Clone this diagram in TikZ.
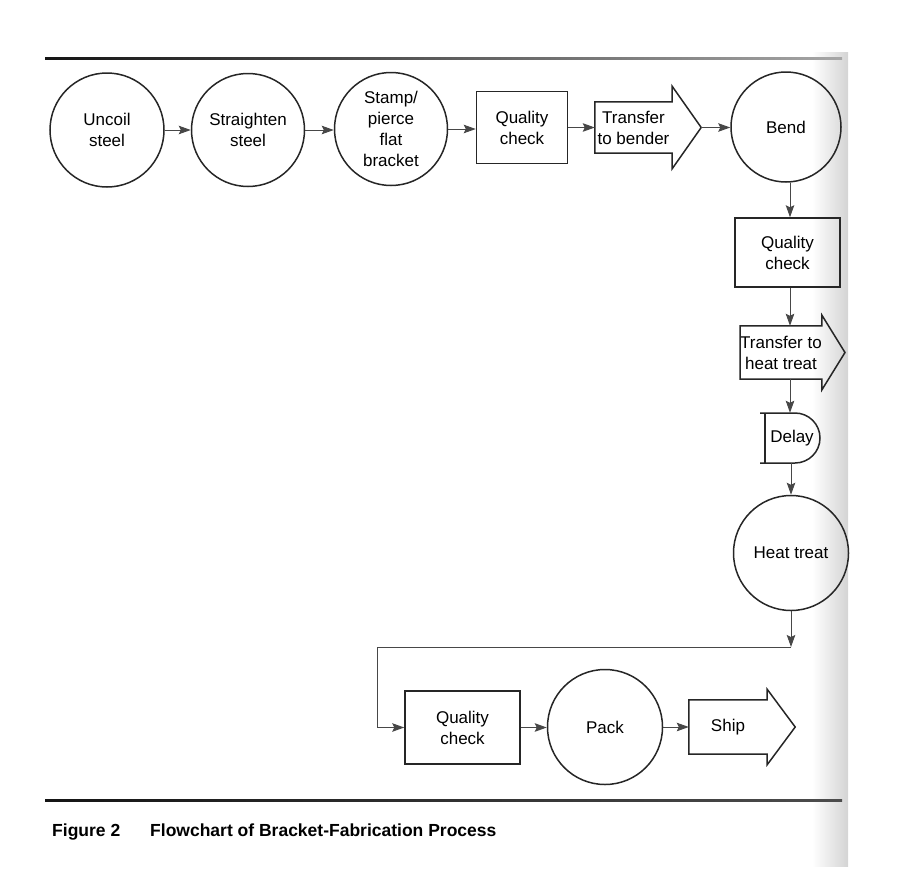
\documentclass[tikz,border=0pt]{standalone}
\usepackage{fontspec}
\setmainfont{Liberation Sans}
\usetikzlibrary{arrows.meta,calc}
\begin{document}
\begin{tikzpicture}[x=1pt,y=-1pt,
  nodefont/.style={font=\fontsize{17}{21}\selectfont},
  outline/.style={draw=black!85,line width=1.5pt},
  proc/.style={circle,outline,inner sep=0pt,align=center,nodefont},
  insp/.style={rectangle,outline,inner sep=0pt,align=center,nodefont},
  tbody/.style={rectangle,inner sep=0pt,align=center,nodefont},
  conn/.style={draw=black!72,line width=1pt,-{Stealth[length=12pt,width=8.5pt,inset=2pt]}},
  connplain/.style={draw=black!72,line width=1pt},
  capfont/.style={font=\fontsize{17.5}{21}\selectfont\bfseries},
  ]
\useasboundingbox (0,0) rectangle (915,878);
% page gutter shadow
\shade[left color=white,right color=black!17,draw=none] (812,52) rectangle (848,866);
% rules
\shade[left color=black!92,right color=black!35,draw=none] (45,57) rectangle (842,59.4);
\shade[left color=black!92,right color=black!70,draw=none] (45,799) rectangle (842,801.4);

% top row
\node[proc,minimum size=114pt] (uncoil) at (107,130) {Uncoil\\steel};
\node[proc,minimum size=113pt] (straight) at (248,130) {Straighten\\steel};
\node[proc,minimum size=113pt] (stamp) at (391,129) {Stamp/\\pierce\\flat\\bracket};
\node[insp,minimum width=91pt,minimum height=72pt] (qc1) at (522,127.5) {Quality\\check};
\node[tbody,minimum width=77pt,minimum height=51pt] (tb) at (633.5,127.5) {Transfer\\to bender};
\coordinate (tbtip) at ($(tb.east)+(29,0)$);
\draw[outline] (tb.north west) -- (tb.north east) -- ++(0,-15.5) -- (tbtip)
  -- ($(tb.south east)+(0,15.5)$) -- (tb.south east) -- (tb.south west) -- cycle;
\node[proc,minimum size=110pt] (bend) at (786,127) {Bend};

% column
\node[insp,minimum width=105pt,minimum height=69pt] (qc2) at (787.5,252.5) {Quality\\check};
\node[tbody,minimum width=75pt,minimum height=53pt] (th) at (781,352.5) {Transfer to\\heat treat};
\coordinate (thtip) at ($(th.east)+(23,0)$);
\draw[outline] (th.north west) -- (th.north east) -- ++(0,-10.5) -- (thtip)
  -- ($(th.south east)+(0,10.5)$) -- (th.south east) -- (th.south west) -- cycle;
\node[tbody,minimum width=55pt,minimum height=50pt] (delay) at (792,438) {Delay};
\draw[outline] (760,413) -- (795,413) arc[start angle=-90,end angle=90,radius=25] -- (760,463);
\draw[outline] (765,413) -- (765,463);
\node[proc,minimum size=115pt] (heat) at (791,553) {Heat treat};

% bottom row
\coordinate (c1) at (791,647);
\coordinate (c2) at (377,647);
\node[insp,minimum width=115pt,minimum height=73pt] (qc3) at (462.5,727.5) {Quality\\check};
\node[proc,minimum size=115pt] (pack) at (605,727) {Pack};
\node[tbody,minimum width=78pt,minimum height=54pt] (ship) at (728,727) {Ship};
\coordinate (shiptip) at ($(ship.east)+(28,0)$);
\draw[outline] (ship.north west) -- (ship.north east) -- ++(0,-10.5) -- (shiptip)
  -- ($(ship.south east)+(0,10.5)$) -- (ship.south east) -- (ship.south west) -- cycle;

% connectors
\draw[conn] (uncoil.east) -- (uncoil.east -| straight.west);
\draw[conn] (straight.east) -- (straight.east -| stamp.west);
\draw[conn] (stamp.east) -- (stamp.east -| qc1.west);
\draw[conn] (qc1.east) -- (qc1.east -| tb.west);
\draw[conn] (tbtip) -- (tbtip -| bend.west);
\draw[conn] (bend.south -| 790,0) -- (qc2.north -| 790,0);
\draw[conn] (qc2.south -| 790,0) -- (th.north -| 790,0);
\draw[conn] (th.south -| 790,0) -- (delay.north -| 790,0);
\draw[conn] (delay.south -| heat.north) -- (heat.north);
\draw[conn] (heat.south) -- (c1);
\draw[connplain] (c1) -- (c2);
\draw[conn] (c2) |- (qc3.west);
\draw[conn] (qc3.east) -- (qc3.east -| pack.west);
\draw[conn] (pack.east) -- (pack.east -| ship.west);

% caption
\node[anchor=base west,inner sep=0pt,capfont] (cap1) at (52,836) {Figure 2};
\node[anchor=base west,inner sep=0pt,capfont] (cap2) at (150,836) {Flowchart of Bracket-Fabrication Process};
\end{tikzpicture}
\end{document}
